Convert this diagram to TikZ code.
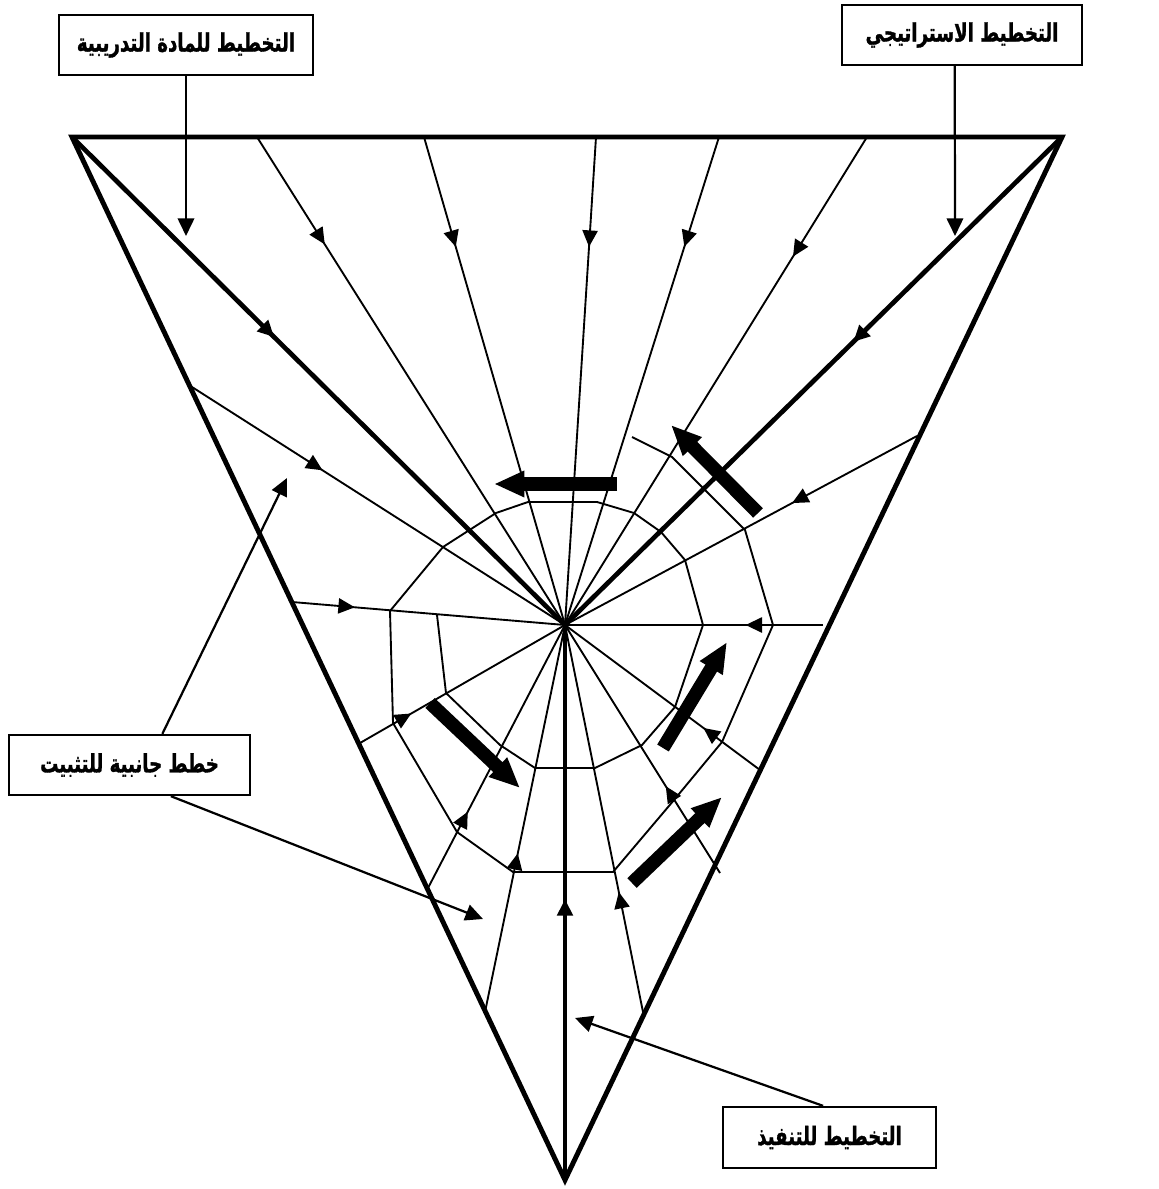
\documentclass[tikz,border=0pt]{standalone}
\usepackage{fontspec}
\newfontfamily\arabicfont[Script=Arabic,FakeBold=1.4]{DejaVu Sans}
\TeXXeTstate=1
\usetikzlibrary{arrows.meta,calc,decorations.markings}
\newcommand{\arlabel}[1]{\scalebox{0.97}[1.35]{\beginR #1\endR}}
\tikzset{
  frame/.style={line width=4.2pt, line join=miter},
  heavy/.style={line width=4pt},
  spoke/.style={line width=1.6pt},
  web/.style={line width=1.6pt, line join=miter},
  marr/.style={postaction={decorate,decoration={markings,mark=at position #1 with {\arrow{Triangle[length=14pt,width=13pt]}}}}},
  lbl/.style={draw, line width=2pt, rectangle, inner sep=0pt, minimum height=1.8cm,
    font=\arabicfont\bfseries\fontsize{16}{20}\selectfont},
  conn/.style={line width=1.9pt, -{Triangle[length=15pt,width=14pt]}},
  block/.style={line width=11.5pt, -{Triangle[length=26pt,width=21pt]}},
}
\begin{document}
\begin{tikzpicture}[x=0.03cm,y=-0.03cm]
\useasboundingbox (0,0) rectangle (1158,1189);
\fill[white] (0,0) rectangle (1158,1189);

% label boxes
\node[lbl, minimum width=7.62cm] (b1) at (186,45) {\arlabel{التخطيط للمادة التدريبية}};
\node[lbl, minimum width=7.2cm] (b2) at (962,35) {\arlabel{التخطيط الاستراتيجي}};
\node[lbl, minimum width=7.23cm] (b3) at (129.5,765) {\arlabel{خطط جانبية للتثبيت}};
\node[lbl, minimum width=6.39cm, minimum height=1.83cm] (b4) at (829.5,1137.5) {\arlabel{التخطيط للتنفيذ}};

% key points
\coordinate (C) at (565,625);
\coordinate (TL) at (72,137);
\coordinate (TR) at (1062,137);
\coordinate (B) at (565,1180);
\coordinate (t1) at (257,137);
\coordinate (t2) at (424,137);
\coordinate (t3) at (596,137);
\coordinate (t4) at (719,137);
\coordinate (t5) at (867,137);
\coordinate (sa) at (292,602);
\coordinate (sb) at (192,387);
\coordinate (sr) at (360,743);
\coordinate (sq) at (428,888);
\coordinate (sp) at (485,1012);
\coordinate (sn) at (643,1012);
\coordinate (sm) at (720,873);
\coordinate (sl) at (760,770);
\coordinate (sk) at (823,625);
\coordinate (sj) at (917,436);

% spiral web
\draw[web] (632,437) -- (672,457) -- (745,530) -- (773,625) -- (722,742) -- (674,800)
  -- (613,872) -- (513,872) -- (457,832) -- (393,723) -- (390,611) -- (443,547)
  -- (496,513) -- (528,502) -- (597,502) -- (634,513) -- (661,532) -- (685,560)
  -- (703,625) -- (675,707) -- (642,745) -- (595,768) -- (535,768) -- (500,745)
  -- (446,693) -- (437,615);

% thin spokes
\draw[spoke, marr=0.22] (t1) -- (C);
\draw[spoke, marr=0.225] (t2) -- (C);
\draw[spoke, marr=0.225] (t3) -- (C);
\draw[spoke, marr=0.225] (t4) -- (C);
\draw[spoke, marr=0.245] (t5) -- (C);
\draw[spoke, marr=0.35] (sb) -- (C);
\draw[spoke, marr=0.23] (sa) -- (C);
\draw[spoke, marr=0.25] (sr) -- (C);
\draw[spoke, marr=0.29] (sq) -- (C);
\draw[spoke, marr=0.41] (sp) -- (C);
\draw[spoke, marr=0.31] (sn) -- (C);
\draw[spoke, marr=0.35] (sm) -- (C);
\draw[spoke, marr=0.29] (sl) -- (C);
\draw[spoke, marr=0.30] (sk) -- (C);
\draw[spoke, marr=0.355] (sj) -- (C);

% heavy spokes
\draw[heavy, marr=0.41] (TL) -- (C);
\draw[heavy, marr=0.42] (TR) -- (C);
\draw[heavy, marr=0.506] (B) -- (C);

% triangle frame
\draw[frame] (TL) -- (TR) -- (B) -- cycle;

% block arrows
\draw[block] (617,484) coordinate (k1a) -- (494,484) coordinate (k1b);
\draw[block] (758,513) coordinate (k2a) -- (671,425) coordinate (k2b);
\draw[block] (430,703) coordinate (k3a) -- (520,788) coordinate (k3b);
\draw[block] (663,748) coordinate (k4a) -- (727,642) coordinate (k4b);
\draw[block] (632,883) coordinate (k5a) -- (722,797) coordinate (k5b);

% label connectors
\coordinate (e1) at (186,236);
\coordinate (e2) at (955,236);
\coordinate (e3) at (287,478);
\coordinate (e4) at (483,919);
\coordinate (e5) at (575,1018);
\draw[conn] (b1.south) -- (e1);
\draw[conn] ($(b2.south west)!0.47!(b2.south east)$) -- (e2);
\draw[conn] ($(b3.north west)!0.635!(b3.north east)$) -- (e3);
\draw[conn] ($(b3.south west)!0.67!(b3.south east)$) -- (e4);
\draw[conn] ($(b4.north west)!0.47!(b4.north east)$) -- (e5);
\end{tikzpicture}
\end{document}
